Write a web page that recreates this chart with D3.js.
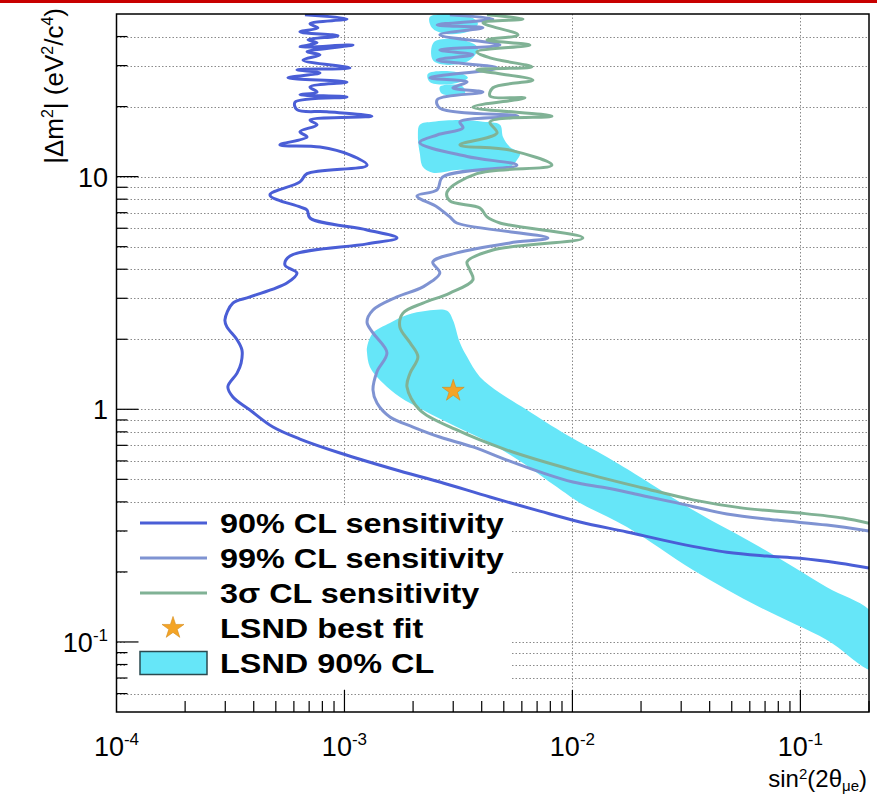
<!DOCTYPE html>
<html><head><meta charset="utf-8">
<script src="https://cdn.jsdelivr.net/npm/d3@7"></script>
<style>
body{margin:0;background:#fff;}
svg{display:block;font-family:"Liberation Sans",Arial,Helvetica,sans-serif;}
</style>
</head><body>
<svg id="chart" width="877" height="796"></svg>
<script>
// ---------- data (sin^2(2theta), |dm^2|) ----------
const sens90 = [[6.71e-4,49.6],[1.026e-3,47.6],[7.06e-4,45.4],[7.65e-4,43.6],[6.38e-4,41.9],[9.37e-4,40.3],[6.92e-4,38.7],[7.58e-4,37.6],[6.38e-4,36.1],[1.09e-3,36.8],[6.85e-4,34.4],[7.81e-4,33.4],[6.58e-4,31.7],[1.057e-3,29.3],[6.19e-4,28.8],[7.81e-4,27.9],[5.65e-4,26.6],[1.026e-3,25.5],[7.06e-4,24.3],[7.58e-4,23.1],[6.38e-4,22.5],[1.026e-3,22.0],[6.07e-4,20.9],[6.19e-4,19.4],[8.38e-4,19.0],[1.32e-3,18.2],[7.06e-4,17.5],[7.58e-4,16.7],[6.38e-4,15.6],[6.85e-4,14.8],[5.21e-4,13.7],[7.81e-4,13.4],[1.057e-3,12.4],[1.256e-3,11.2],[6.85e-4,10.3],[6.38e-4,9.49],[4.71e-4,8.34],[6.38e-4,7.41],[6.85e-4,7.19],[7.06e-4,6.64],[1.256e-3,5.90],[1.70e-3,5.45],[1.256e-3,5.14],[5.77e-4,4.56],[5.48e-4,4.17],[6.19e-4,3.85],[5.59e-4,3.49],[3.85e-4,3.04],[3.24e-4,2.86],[2.99e-4,2.42],[3.05e-4,2.26],[3.38e-4,1.99],[3.55e-4,1.80],[3.52e-4,1.58],[3.38e-4,1.43],[3.08e-4,1.25],[3.24e-4,1.13],[3.85e-4,0.993],[4.86e-4,0.839],[6.38e-4,0.745],[9.56e-4,0.649],[1.75e-3,0.543],[2.62e-3,0.487],[4.35e-3,0.420],[7.20e-3,0.365],[1.079e-2,0.328],[1.734e-2,0.297],[2.87e-2,0.266],[4.76e-2,0.243],[7.13e-2,0.234],[0.0995,0.229],[0.149,0.218],[0.2,0.208]];

const sens99 = [[2.90e-3,49.6],[4.48e-3,47.6],[2.55e-3,44.9],[4.05e-3,43.6],[2.62e-3,40.7],[4.81e-3,36.8],[2.62e-3,35.0],[3.66e-3,33.4],[2.55e-3,31.7],[4.67e-3,29.3],[2.37e-3,26.6],[3.45e-3,25.5],[2.99e-3,24.1],[4.05e-3,23.1],[2.55e-3,21.4],[2.62e-3,19.7],[5.77e-3,18.2],[3.21e-3,17.2],[3.31e-3,16.2],[2.55e-3,15.1],[2.14e-3,14.0],[3.45e-3,12.2],[5.71e-3,11.2],[2.70e-3,9.97],[2.55e-3,8.77],[2.08e-3,8.26],[2.55e-3,7.41],[2.90e-3,6.71],[3.11e-3,6.32],[7.81e-3,5.45],[5.32e-3,5.19],[3.11e-3,4.70],[2.44e-3,4.30],[2.62e-3,3.85],[2.21e-3,3.36],[1.70e-3,3.04],[1.334e-3,2.67],[1.256e-3,2.37],[1.334e-3,2.13],[1.536e-3,1.75],[1.389e-3,1.45],[1.334e-3,1.21],[1.389e-3,1.064],[1.583e-3,0.927],[2.00e-3,0.839],[2.62e-3,0.760],[3.66e-3,0.689],[5.16e-3,0.605],[7.20e-3,0.538],[1.005e-2,0.487],[1.417e-2,0.459],[1.978e-2,0.428],[2.87e-2,0.396],[4.76e-2,0.355],[7.89e-2,0.334],[0.1307,0.318],[0.2,0.300]];

const sens3sigma = [[4.22e-3,49.6],[6.07e-3,47.6],[4.05e-3,45.8],[5.77e-3,40.7],[4.22e-3,38.7],[6.51e-3,36.8],[3.81e-3,34.4],[4.35e-3,32.4],[6.64e-3,29.6],[3.81e-3,28.8],[6.71e-3,26.0],[4.48e-3,24.1],[4.35e-3,22.2],[6.19e-3,21.8],[3.66e-3,19.9],[8.13e-3,18.2],[4.35e-3,17.2],[4.67e-3,15.4],[3.21e-3,13.7],[5.32e-3,13.0],[8.13e-3,11.2],[3.81e-3,10.3],[2.82e-3,8.60],[2.90e-3,7.86],[3.93e-3,7.33],[4.22e-3,6.71],[4.81e-3,6.32],[1.112e-2,5.45],[4.48e-3,4.84],[3.45e-3,4.30],[3.55e-3,3.97],[3.66e-3,3.60],[2.90e-3,3.16],[2.21e-3,2.86],[1.806e-3,2.59],[1.75e-3,2.26],[1.94e-3,1.93],[2.10e-3,1.68],[1.94e-3,1.43],[1.88e-3,1.25],[2.14e-3,0.993],[3.11e-3,0.815],[5.16e-3,0.668],[1.005e-2,0.548],[2.04e-2,0.459],[3.38e-2,0.408],[5.60e-2,0.376],[0.0995,0.358],[0.1536,0.341],[0.2,0.324]];

const lsndBand = [[1.256e-3,1.85],[1.334e-3,2.13],[1.583e-3,2.35],[1.88e-3,2.54],[2.30e-3,2.65],[2.82e-3,2.65],[2.99e-3,2.42],[3.21e-3,1.93],[3.45e-3,1.68],[3.93e-3,1.377],[4.81e-3,1.175],[6.32e-3,0.993],[9.46e-3,0.775],[1.417e-2,0.624],[1.978e-2,0.512],[3.38e-2,0.369],[6.64e-2,0.256],[0.1307,0.172],[0.21,0.130],[0.21,0.076],[0.1307,0.102],[6.64e-2,0.141],[3.38e-2,0.204],[1.734e-2,0.312],[1.079e-2,0.396],[8.55e-3,0.463],[6.07e-3,0.588],[4.35e-3,0.716],[3.11e-3,0.839],[2.21e-3,0.993],[1.75e-3,1.13],[1.475e-3,1.297],[1.293e-3,1.52],[1.256e-3,1.75]];
const lsndIsland = [[2.14e-3,16.7],[2.44e-3,17.2],[3.21e-3,17.5],[4.05e-3,17.2],[4.81e-3,16.7],[4.96e-3,14.8],[5.32e-3,13.4],[5.89e-3,12.6],[5.71e-3,11.8],[5.32e-3,11.0],[4.22e-3,10.5],[3.21e-3,10.7],[2.44e-3,10.4],[2.21e-3,11.0],[2.14e-3,12.6],[2.10e-3,14.8]];
const lsndPatchA = [[2.37e-3,48.6],[3.55e-3,48.6],[3.85e-3,45.4],[3.48e-3,41.9],[2.76e-3,41.1],[2.42e-3,43.6]];
const lsndPatchB = [[2.47e-3,37.9],[3.28e-3,38.7],[3.85e-3,35.8],[3.55e-3,31.7],[2.84e-3,30.2],[2.44e-3,31.7]];
const lsndPatchC = [[2.32e-3,27.6],[3.05e-3,28.2],[3.48e-3,26.6],[2.96e-3,25.0],[2.37e-3,25.5]];
const lsndPatchD = [[2.62e-3,24.3],[3.28e-3,24.5],[3.38e-3,22.9],[2.68e-3,22.7]];
const lsndBestFit = [3.0e-3, 1.2];

const xTickValues = [1e-4, 1e-3, 1e-2, 1e-1];
const xTickExponents = ["-4", "-3", "-2", "-1"];
const yTickValues = [0.1, 1, 10];
const yTickBases = ["10", "1", "10"];
const yTickExponents = ["-1", "", ""];
const legendLabels = ["90% CL sensitivity", "99% CL sensitivity", "3\u03C3 CL sensitivity", "LSND best fit", "LSND 90% CL"];

// ---------- styling ----------
const C90 = "#4a5ed6", C99 = "#7f93d2", C3S = "#80b295", CFILL = "#66e6f8", CSTAR = "#f4a426";

const svg = d3.select("#chart");
const L = 116.5, R = 869, T = 14, B = 712;
const x = d3.scaleLog().domain([1e-4, 0.2]).range([L, R]);
const y = d3.scaleLog().domain([0.05, 50]).range([B, T]);

svg.append("rect").attr("x",0).attr("y",0).attr("width",877).attr("height",3).attr("fill","#c80000");

svg.append("defs").append("clipPath").attr("id","clip")
  .append("rect").attr("x",L).attr("y",T).attr("width",R-L).attr("height",B-T);

// grid
const yGrid = [];
for (let e=-2; e<=1; e++) for (let m=1; m<=9; m++) {
  const v = m*Math.pow(10,e);
  if (v>0.0501 && v<49.9) yGrid.push(v);
}
const gGrid = svg.append("g").attr("stroke","#8a8a8a").attr("stroke-width",1).attr("stroke-dasharray","1.5,2");
gGrid.selectAll("line.h").data(yGrid).join("line").attr("class","h")
  .attr("x1",L).attr("x2",R).attr("y1",d=>Math.round(y(d))+0.5).attr("y2",d=>Math.round(y(d))+0.5);
gGrid.selectAll("line.v").data([1e-3,1e-2,1e-1]).join("line").attr("class","v")
  .attr("y1",T).attr("y2",B).attr("x1",d=>Math.round(x(d))+0.5).attr("x2",d=>Math.round(x(d))+0.5);

const plot = svg.append("g").attr("clip-path","url(#clip)");

const area = d3.line().x(d=>x(d[0])).y(d=>y(d[1])).curve(d3.curveCatmullRomClosed.alpha(0.5));
[lsndBand, lsndIsland, lsndPatchA, lsndPatchB, lsndPatchC, lsndPatchD].forEach(p=>{
  plot.append("path").attr("d", area(p)).attr("fill", CFILL).attr("stroke","none");
});

const line = d3.line().x(d=>x(d[0])).y(d=>y(d[1])).curve(d3.curveCatmullRom.alpha(0.5));
[[sens90,C90],[sens99,C99],[sens3sigma,C3S]].forEach(([data,col])=>{
  plot.append("path").attr("d", line(data)).attr("fill","none").attr("stroke",col)
    .attr("stroke-width",3).attr("stroke-linejoin","round");
});

const star = d3.symbol().type(d3.symbolStar).size(150);
plot.append("path").attr("d", star()).attr("transform",`translate(${x(lsndBestFit[0])},${y(lsndBestFit[1])})`)
  .attr("fill",CSTAR).attr("stroke","#d48a18").attr("stroke-width",0.6);

// legend
const lg = svg.append("g");
lg.append("rect").attr("x",125).attr("y",505).attr("width",387).attr("height",183).attr("fill","#fff");
const rowY = i => 523 + i*35;
legendLabels.forEach((lab,i)=>{
  const cy = rowY(i);
  if (i<3) {
    lg.append("line").attr("x1",140).attr("x2",207).attr("y1",cy).attr("y2",cy)
      .attr("stroke",[C90,C99,C3S][i]).attr("stroke-width",3);
  } else if (i===3) {
    lg.append("path").attr("d",star()).attr("transform",`translate(173,${cy})`)
      .attr("fill",CSTAR).attr("stroke","#d48a18").attr("stroke-width",0.6);
  } else {
    lg.append("rect").attr("x",140).attr("y",cy-11.5).attr("width",67).attr("height",23)
      .attr("fill",CFILL).attr("stroke","#2a4a50").attr("stroke-width",1.5);
  }
  lg.append("text").attr("transform",`translate(220,${cy+9.5}) scale(1.2,1)`)
    .attr("font-size",27).attr("font-weight","bold").attr("fill","#000").text(lab);
});

// frame
svg.append("rect").attr("x",L).attr("y",T).attr("width",R-L).attr("height",B-T)
  .attr("fill","none").attr("stroke","#000").attr("stroke-width",1.5);

// ticks
const gT = svg.append("g").attr("stroke","#000").attr("stroke-width",1.2);
for (let e=-4; e<=-1; e++) for (let m=1; m<=9; m++) {
  const v = m*Math.pow(10,e); if (v<=1e-4*1.001 || v>0.2) continue;
  const len = m===1 ? 22 : 11;
  gT.append("line").attr("x1",x(v)).attr("x2",x(v)).attr("y1",B).attr("y2",B-len);
}
for (let e=-2; e<=1; e++) for (let m=1; m<=9; m++) {
  const v = m*Math.pow(10,e); if (v<=0.0501 || v>=49.9) continue;
  const len = m===1 ? 22 : 11;
  gT.append("line").attr("x1",L).attr("x2",L+len).attr("y1",y(v)).attr("y2",y(v));
}

// tick labels
xTickValues.forEach((v,i)=>{
  const t = svg.append("text").attr("x",x(v)).attr("y",756).attr("text-anchor","middle")
    .attr("font-size",27).attr("fill","#000");
  t.append("tspan").text("10");
  t.append("tspan").attr("dy",-11).attr("font-size",17).text(xTickExponents[i]);
});
yTickValues.forEach((v,i)=>{
  const t = svg.append("text").attr("x",108).attr("y",y(v)+10).attr("text-anchor","end")
    .attr("font-size",27).attr("fill","#000");
  t.append("tspan").text(yTickBases[i]);
  if (yTickExponents[i]) t.append("tspan").attr("dy",-11).attr("font-size",17).text(yTickExponents[i]);
});

// axis titles
const yt = svg.append("text").attr("transform","translate(63,8) rotate(-90)").attr("text-anchor","end")
  .attr("font-size",26).attr("fill","#000");
yt.append("tspan").text("|\u0394m");
yt.append("tspan").attr("dy",-10).attr("font-size",16).text("2");
yt.append("tspan").attr("dy",10).text("| (eV");
yt.append("tspan").attr("dy",-10).attr("font-size",16).text("2");
yt.append("tspan").attr("dy",10).text("/c");
yt.append("tspan").attr("dy",-10).attr("font-size",16).text("4");
yt.append("tspan").attr("dy",10).text(")");

const xt = svg.append("text").attr("x",867).attr("y",787).attr("text-anchor","end")
  .attr("font-size",24).attr("fill","#000");
xt.append("tspan").text("sin");
xt.append("tspan").attr("dy",-8).attr("font-size",15).text("2");
xt.append("tspan").attr("dy",8).text("(2\u03B8");
xt.append("tspan").attr("dy",4).attr("font-size",15).text("\u03BCe");
xt.append("tspan").attr("dy",-4).text(")");
</script>
</body></html>
